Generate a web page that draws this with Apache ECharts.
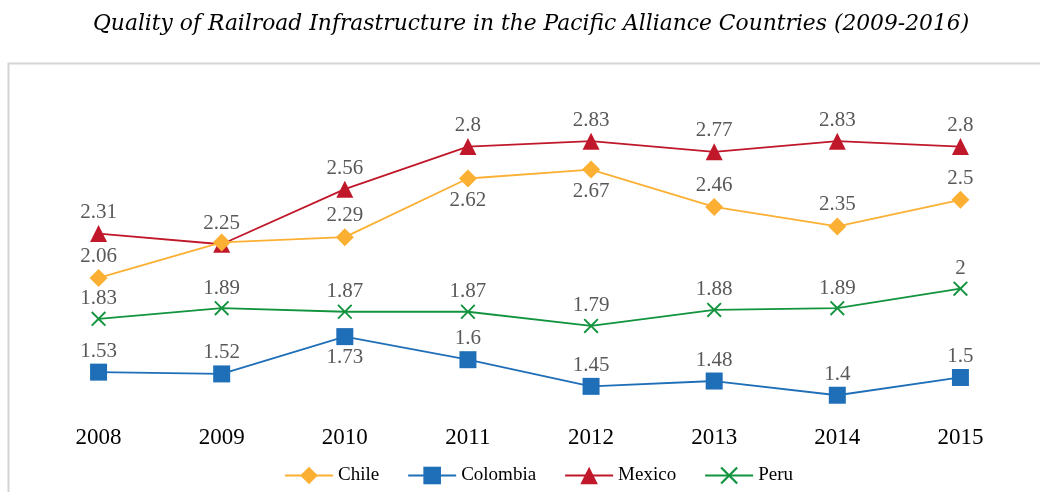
<!DOCTYPE html>
<html>
<head>
<meta charset="utf-8">
<script src="https://cdn.jsdelivr.net/npm/echarts@6/dist/echarts.min.js"></script>
<style>
html,body{margin:0;padding:0;background:#fff;}
#chart{width:1040px;height:492px;}
</style>
</head>
<body>
<div id="chart"></div>
<script>
const titleText = 'Quality of Railroad Infrastructure in the Pacific Alliance Countries (2009-2016)';
const years = ['2008','2009','2010','2011','2012','2013','2014','2015'];
const chile    = [2.06, 2.26, 2.29, 2.62, 2.67, 2.46, 2.35, 2.5];
const colombia = [1.53, 1.52, 1.73, 1.6, 1.45, 1.48, 1.4, 1.5];
const mexico   = [2.31, 2.25, 2.56, 2.8, 2.83, 2.77, 2.83, 2.8];
const peru     = [1.83, 1.89, 1.87, 1.87, 1.79, 1.88, 1.89, 2];

const FONT = '"Liberation Serif", "DejaVu Serif", serif';
const TFONT = '"DejaVu Serif", "Liberation Serif", serif';
const xPath = 'path://M0,9L9,0L50,41L91,0L100,9L59,50L100,91L91,100L50,59L9,100L0,91L41,50Z';

// label placement per point (style, not data)
const chilePos = ['top', null, 'top', 'bottom', 'bottom', 'top', 'top', 'top'];
const colombiaPos = ['top', 'top', 'bottom', 'top', 'top', 'top', 'top', 'top'];

function items(values, posArr) {
  return values.map((v, i) => {
    const p = posArr ? posArr[i] : 'top';
    if (p === null) return { value: v, label: { show: false } };
    return { value: v, label: { position: p } };
  });
}

const labelStyle = {
  show: true,
  position: 'top',
  color: '#595959',
  fontFamily: FONT,
  fontSize: 21,
  distance: 2
};

function mk(name, data, color, symbol, size, z) {
  return {
    name: name,
    type: 'line',
    z: z,
    data: data,
    symbol: symbol,
    symbolSize: size,
    lineStyle: { color: color, width: 1.8 },
    itemStyle: { color: color },
    label: labelStyle,
    emphasis: { disabled: true },
    animation: false
  };
}

const chart = echarts.init(document.getElementById('chart'), null, { renderer: 'canvas' });
chart.setOption({
  backgroundColor: '#fff',
  animation: false,
  title: {
    text: titleText,
    left: 88,
    top: 8,
    textStyle: { fontFamily: TFONT, fontStyle: 'italic', fontWeight: 'normal', fontSize: 21.8, color: '#000' }
  },
  graphic: [{
    type: 'rect',
    shape: { x: 8.5, y: 63.5, width: 1100, height: 500 },
    style: { fill: 'none', stroke: '#d4d4d4', lineWidth: 2 },
    silent: true
  }],
  legend: {
    data: ['Chile', 'Colombia', 'Mexico', 'Peru'],
    left: 279,
    top: 461,
    itemWidth: 48,
    itemHeight: 22,
    itemGap: 28,
    textStyle: { fontFamily: FONT, fontSize: 19, color: '#000' }
  },
  grid: { left: 37, width: 985, top: 111, height: 302 },
  xAxis: {
    type: 'category',
    data: years,
    boundaryGap: true,
    axisLine: { show: false },
    axisTick: { show: false },
    axisLabel: { color: '#000', fontFamily: FONT, fontSize: 23, margin: 13 }
  },
  yAxis: {
    type: 'value',
    min: 1.3,
    max: 3.0,
    show: false,
    splitLine: { show: false }
  },
  series: [
    mk('Chile', items(chile, chilePos), '#FBB034', 'diamond', 18, 4),
    mk('Colombia', items(colombia, colombiaPos), '#1F6EB8', 'rect', 17, 2),
    mk('Mexico', items(mexico), '#C0182A', 'triangle', 17, 3),
    mk('Peru', items(peru), '#12933E', xPath, 15, 2)
  ]
});
</script>
</body>
</html>
